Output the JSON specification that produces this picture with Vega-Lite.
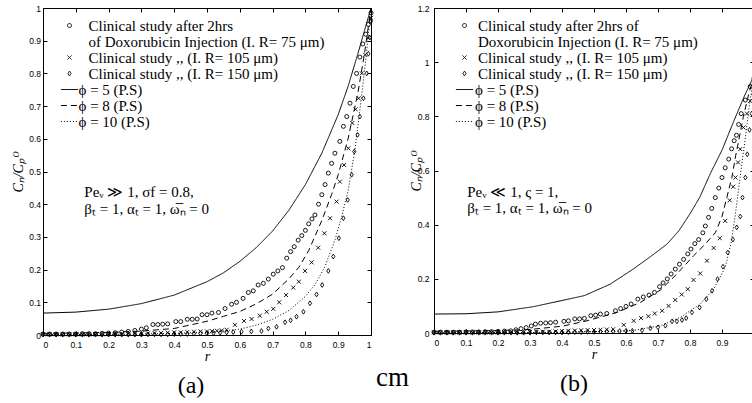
{
  "$schema": "https://vega.github.io/schema/vega-lite/v6.json",
  "padding": {"left": 10, "top": 3, "right": 0, "bottom": 0},
  "background": "white",
  "config": {
    "view": {"stroke": "black", "strokeWidth": 1},
    "style": {"guide-label": {"lineHeight": 16.5}},
    "axis": {"grid": false, "domainColor": "black", "domainWidth": 1, "tickColor": "black", "tickSize": -4, "tickWidth": 1, "labelColor": "black", "labelFont": "Liberation Sans", "labelFontSize": 8.5, "titleFont": "Liberation Serif", "titleFontStyle": "italic", "titleFontWeight": "normal", "titleFontSize": 14, "titleColor": "black"},
    "legend": {"labelFont": "Liberation Serif", "labelFontSize": 15, "labelColor": "black", "labelLimit": 400, "rowPadding": -0.5, "symbolSize": 16, "padding": 0, "symbolStrokeColor": "black", "symbolStrokeWidth": 1, "symbolFillColor": "transparent"}
  },
  "title": {"text": "cm", "orient": "bottom", "anchor": "middle", "font": "Liberation Serif", "fontSize": 27, "fontWeight": "normal", "color": "black", "offset": -34, "dx": 8},
  "datasets": {
    "aL": [
      {"s":"p5","r":0,"v":0.067},{"s":"p5","r":0.1,"v":0.07},{"s":"p5","r":0.2,"v":0.079},{"s":"p5","r":0.3,"v":0.096},{"s":"p5","r":0.4,"v":0.122},{"s":"p5","r":0.5,"v":0.163},{"s":"p5","r":0.55,"v":0.19},{"s":"p5","r":0.6,"v":0.225},{"s":"p5","r":0.65,"v":0.267},{"s":"p5","r":0.7,"v":0.318},{"s":"p5","r":0.75,"v":0.382},{"s":"p5","r":0.8,"v":0.46},{"s":"p5","r":0.85,"v":0.556},{"s":"p5","r":0.9,"v":0.674},{"s":"p5","r":0.93,"v":0.76},{"s":"p5","r":0.96,"v":0.86},{"s":"p5","r":0.98,"v":0.93},{"s":"p5","r":1,"v":1},
      {"s":"p8","r":0,"v":0.005},{"s":"p8","r":0.1,"v":0.006},{"s":"p8","r":0.2,"v":0.008},{"s":"p8","r":0.3,"v":0.012},{"s":"p8","r":0.4,"v":0.02},{"s":"p8","r":0.46,"v":0.033},{"s":"p8","r":0.5,"v":0.042},{"s":"p8","r":0.55,"v":0.057},{"s":"p8","r":0.6,"v":0.072},{"s":"p8","r":0.65,"v":0.095},{"s":"p8","r":0.7,"v":0.125},{"s":"p8","r":0.75,"v":0.172},{"s":"p8","r":0.78,"v":0.207},{"s":"p8","r":0.81,"v":0.258},{"s":"p8","r":0.85,"v":0.35},{"s":"p8","r":0.88,"v":0.43},{"s":"p8","r":0.9,"v":0.49},{"s":"p8","r":0.93,"v":0.6},{"s":"p8","r":0.96,"v":0.74},{"s":"p8","r":0.98,"v":0.86},{"s":"p8","r":1,"v":1},
      {"s":"p10","r":0,"v":0.001},{"s":"p10","r":0.2,"v":0.002},{"s":"p10","r":0.3,"v":0.003},{"s":"p10","r":0.4,"v":0.005},{"s":"p10","r":0.5,"v":0.009},{"s":"p10","r":0.55,"v":0.012},{"s":"p10","r":0.6,"v":0.018},{"s":"p10","r":0.65,"v":0.03},{"s":"p10","r":0.7,"v":0.048},{"s":"p10","r":0.75,"v":0.075},{"s":"p10","r":0.8,"v":0.118},{"s":"p10","r":0.83,"v":0.155},{"s":"p10","r":0.86,"v":0.21},{"s":"p10","r":0.89,"v":0.29},{"s":"p10","r":0.91,"v":0.36},{"s":"p10","r":0.93,"v":0.44},{"s":"p10","r":0.95,"v":0.56},{"s":"p10","r":0.97,"v":0.72},{"s":"p10","r":0.985,"v":0.85},{"s":"p10","r":1,"v":1}
    ],
    "aP": [
      {"s":"c75","r":0,"v":0.003},{"s":"c75","r":0.02,"v":0.003},{"s":"c75","r":0.04,"v":0.003},{"s":"c75","r":0.06,"v":0.003},{"s":"c75","r":0.08,"v":0.003},{"s":"c75","r":0.1,"v":0.003},{"s":"c75","r":0.12,"v":0.004},{"s":"c75","r":0.14,"v":0.004},{"s":"c75","r":0.16,"v":0.004},{"s":"c75","r":0.18,"v":0.005},{"s":"c75","r":0.2,"v":0.006},{"s":"c75","r":0.22,"v":0.007},{"s":"c75","r":0.24,"v":0.009},{"s":"c75","r":0.26,"v":0.011},{"s":"c75","r":0.28,"v":0.014},{"s":"c75","r":0.3,"v":0.018},
      {"s":"c75","r":0.315,"v":0.022},{"s":"c75","r":0.335,"v":0.032},{"s":"c75","r":0.35,"v":0.032},{"s":"c75","r":0.365,"v":0.033},{"s":"c75","r":0.38,"v":0.034},{"s":"c75","r":0.405,"v":0.041},{"s":"c75","r":0.42,"v":0.041},{"s":"c75","r":0.44,"v":0.048},{"s":"c75","r":0.455,"v":0.048},{"s":"c75","r":0.47,"v":0.049},{"s":"c75","r":0.485,"v":0.062},{"s":"c75","r":0.5,"v":0.062},{"s":"c75","r":0.515,"v":0.067},{"s":"c75","r":0.535,"v":0.069},{"s":"c75","r":0.555,"v":0.081},{"s":"c75","r":0.575,"v":0.094},{"s":"c75","r":0.59,"v":0.1},{"s":"c75","r":0.61,"v":0.112},{"s":"c75","r":0.626,"v":0.13},{"s":"c75","r":0.641,"v":0.135},{"s":"c75","r":0.656,"v":0.153},{"s":"c75","r":0.672,"v":0.158},{"s":"c75","r":0.687,"v":0.171},{"s":"c75","r":0.702,"v":0.186},{"s":"c75","r":0.716,"v":0.196},{"s":"c75","r":0.73,"v":0.206},{"s":"c75","r":0.743,"v":0.235},{"s":"c75","r":0.755,"v":0.255},{"s":"c75","r":0.766,"v":0.27},{"s":"c75","r":0.778,"v":0.29},{"s":"c75","r":0.789,"v":0.304},{"s":"c75","r":0.8,"v":0.32},{"s":"c75","r":0.81,"v":0.34},{"s":"c75","r":0.82,"v":0.355},{"s":"c75","r":0.829,"v":0.367},{"s":"c75","r":0.84,"v":0.4},{"s":"c75","r":0.85,"v":0.429},{"s":"c75","r":0.86,"v":0.46},{"s":"c75","r":0.87,"v":0.495},{"s":"c75","r":0.88,"v":0.525},{"s":"c75","r":0.89,"v":0.556},{"s":"c75","r":0.905,"v":0.592},{"s":"c75","r":0.916,"v":0.638},{"s":"c75","r":0.926,"v":0.668},{"s":"c75","r":0.936,"v":0.709},{"s":"c75","r":0.946,"v":0.76},{"s":"c75","r":0.956,"v":0.8},{"s":"c75","r":0.966,"v":0.85},{"s":"c75","r":0.975,"v":0.89},{"s":"c75","r":0.984,"v":0.92},{"s":"c75","r":0.992,"v":0.95},{"s":"c75","r":1,"v":0.985},
      {"s":"c105","r":0,"v":0.002},{"s":"c105","r":0.02,"v":0.002},{"s":"c105","r":0.04,"v":0.002},{"s":"c105","r":0.06,"v":0.002},{"s":"c105","r":0.08,"v":0.002},{"s":"c105","r":0.1,"v":0.002},{"s":"c105","r":0.12,"v":0.002},{"s":"c105","r":0.14,"v":0.002},{"s":"c105","r":0.16,"v":0.002},{"s":"c105","r":0.18,"v":0.002},{"s":"c105","r":0.2,"v":0.003},{"s":"c105","r":0.22,"v":0.003},{"s":"c105","r":0.24,"v":0.003},{"s":"c105","r":0.26,"v":0.004},{"s":"c105","r":0.28,"v":0.004},{"s":"c105","r":0.3,"v":0.005},{"s":"c105","r":0.32,"v":0.005},{"s":"c105","r":0.34,"v":0.006},{"s":"c105","r":0.36,"v":0.006},{"s":"c105","r":0.38,"v":0.007},{"s":"c105","r":0.4,"v":0.008},{"s":"c105","r":0.42,"v":0.008},{"s":"c105","r":0.44,"v":0.009},{"s":"c105","r":0.46,"v":0.01},
      {"s":"c105","r":0.48,"v":0.011},{"s":"c105","r":0.5,"v":0.011},{"s":"c105","r":0.515,"v":0.012},{"s":"c105","r":0.53,"v":0.013},{"s":"c105","r":0.545,"v":0.014},{"s":"c105","r":0.56,"v":0.016},{"s":"c105","r":0.585,"v":0.031},{"s":"c105","r":0.613,"v":0.043},{"s":"c105","r":0.636,"v":0.049},{"s":"c105","r":0.661,"v":0.059},{"s":"c105","r":0.682,"v":0.071},{"s":"c105","r":0.702,"v":0.08},{"s":"c105","r":0.72,"v":0.1},{"s":"c105","r":0.741,"v":0.122},{"s":"c105","r":0.763,"v":0.145},{"s":"c105","r":0.78,"v":0.163},{"s":"c105","r":0.799,"v":0.196},{"s":"c105","r":0.819,"v":0.222},{"s":"c105","r":0.839,"v":0.267},{"s":"c105","r":0.858,"v":0.311},{"s":"c105","r":0.875,"v":0.357},{"s":"c105","r":0.895,"v":0.408},{"s":"c105","r":0.905,"v":0.469},{"s":"c105","r":0.918,"v":0.52},{"s":"c105","r":0.931,"v":0.571},{"s":"c105","r":0.943,"v":0.648},{"s":"c105","r":0.953,"v":0.69},{"s":"c105","r":0.962,"v":0.724},{"s":"c105","r":0.972,"v":0.8},{"s":"c105","r":0.982,"v":0.857},{"s":"c105","r":0.992,"v":0.908},{"s":"c105","r":1,"v":0.97},
      {"s":"c150","r":0,"v":0.001},{"s":"c150","r":0.02,"v":0.001},{"s":"c150","r":0.04,"v":0.001},{"s":"c150","r":0.06,"v":0.001},{"s":"c150","r":0.08,"v":0.001},{"s":"c150","r":0.1,"v":0.001},{"s":"c150","r":0.12,"v":0.001},{"s":"c150","r":0.14,"v":0.001},{"s":"c150","r":0.16,"v":0.001},{"s":"c150","r":0.18,"v":0.001},{"s":"c150","r":0.2,"v":0.001},{"s":"c150","r":0.22,"v":0.001},{"s":"c150","r":0.24,"v":0.001},{"s":"c150","r":0.26,"v":0.001},{"s":"c150","r":0.28,"v":0.001},{"s":"c150","r":0.3,"v":0.001},{"s":"c150","r":0.32,"v":0.002},{"s":"c150","r":0.34,"v":0.002},{"s":"c150","r":0.36,"v":0.002},{"s":"c150","r":0.38,"v":0.002},{"s":"c150","r":0.4,"v":0.003},{"s":"c150","r":0.42,"v":0.003},{"s":"c150","r":0.44,"v":0.003},{"s":"c150","r":0.46,"v":0.004},{"s":"c150","r":0.48,"v":0.005},{"s":"c150","r":0.5,"v":0.005},{"s":"c150","r":0.52,"v":0.006},{"s":"c150","r":0.54,"v":0.007},{"s":"c150","r":0.56,"v":0.008},{"s":"c150","r":0.58,"v":0.009},
      {"s":"c150","r":0.605,"v":0.01},{"s":"c150","r":0.635,"v":0.011},{"s":"c150","r":0.666,"v":0.012},{"s":"c150","r":0.687,"v":0.02},{"s":"c150","r":0.712,"v":0.025},{"s":"c150","r":0.738,"v":0.039},{"s":"c150","r":0.755,"v":0.045},{"s":"c150","r":0.773,"v":0.056},{"s":"c150","r":0.794,"v":0.071},{"s":"c150","r":0.814,"v":0.097},{"s":"c150","r":0.834,"v":0.124},{"s":"c150","r":0.851,"v":0.153},{"s":"c150","r":0.87,"v":0.196},{"s":"c150","r":0.885,"v":0.24},{"s":"c150","r":0.902,"v":0.296},{"s":"c150","r":0.916,"v":0.357},{"s":"c150","r":0.929,"v":0.413},{"s":"c150","r":0.941,"v":0.49},{"s":"c150","r":0.949,"v":0.561},{"s":"c150","r":0.959,"v":0.612},{"s":"c150","r":0.966,"v":0.668},{"s":"c150","r":0.977,"v":0.724},{"s":"c150","r":0.987,"v":0.8},{"s":"c150","r":0.992,"v":0.86},{"s":"c150","r":0.996,"v":0.91},{"s":"c150","r":1,"v":0.96}
    ],
    "bL": [
      {"s":"p5","r":0,"v":0.07},{"s":"p5","r":0.1,"v":0.071},{"s":"p5","r":0.2,"v":0.078},{"s":"p5","r":0.31,"v":0.097},{"s":"p5","r":0.4,"v":0.12},{"s":"p5","r":0.47,"v":0.138},{"s":"p5","r":0.55,"v":0.18},{"s":"p5","r":0.62,"v":0.234},{"s":"p5","r":0.68,"v":0.285},{"s":"p5","r":0.728,"v":0.328},{"s":"p5","r":0.765,"v":0.377},{"s":"p5","r":0.8,"v":0.44},{"s":"p5","r":0.83,"v":0.5},{"s":"p5","r":0.864,"v":0.59},{"s":"p5","r":0.9,"v":0.675},{"s":"p5","r":0.936,"v":0.78},{"s":"p5","r":0.97,"v":0.875},{"s":"p5","r":1,"v":0.95},
      {"s":"p8","r":0,"v":0.006},{"s":"p8","r":0.2,"v":0.009},{"s":"p8","r":0.3,"v":0.013},{"s":"p8","r":0.4,"v":0.025},{"s":"p8","r":0.478,"v":0.045},{"s":"p8","r":0.572,"v":0.076},{"s":"p8","r":0.645,"v":0.113},{"s":"p8","r":0.708,"v":0.159},{"s":"p8","r":0.759,"v":0.218},{"s":"p8","r":0.811,"v":0.285},{"s":"p8","r":0.845,"v":0.325},{"s":"p8","r":0.879,"v":0.37},{"s":"p8","r":0.9,"v":0.43},{"s":"p8","r":0.915,"v":0.5},{"s":"p8","r":0.931,"v":0.575},{"s":"p8","r":0.942,"v":0.65},{"s":"p8","r":0.957,"v":0.74},{"s":"p8","r":0.967,"v":0.8},{"s":"p8","r":0.983,"v":0.88},{"s":"p8","r":1,"v":0.95},
      {"s":"p10","r":0,"v":0.001},{"s":"p10","r":0.3,"v":0.002},{"s":"p10","r":0.4,"v":0.003},{"s":"p10","r":0.5,"v":0.005},{"s":"p10","r":0.58,"v":0.007},{"s":"p10","r":0.624,"v":0.01},{"s":"p10","r":0.708,"v":0.027},{"s":"p10","r":0.77,"v":0.058},{"s":"p10","r":0.832,"v":0.107},{"s":"p10","r":0.874,"v":0.162},{"s":"p10","r":0.91,"v":0.242},{"s":"p10","r":0.928,"v":0.33},{"s":"p10","r":0.942,"v":0.44},{"s":"p10","r":0.957,"v":0.58},{"s":"p10","r":0.973,"v":0.72},{"s":"p10","r":0.986,"v":0.845},{"s":"p10","r":1,"v":0.95}
    ],
    "bP": [
      {"s":"c75","r":0,"v":0.003},{"s":"c75","r":0.02,"v":0.003},{"s":"c75","r":0.04,"v":0.003},{"s":"c75","r":0.06,"v":0.003},{"s":"c75","r":0.08,"v":0.003},{"s":"c75","r":0.1,"v":0.004},{"s":"c75","r":0.12,"v":0.004},{"s":"c75","r":0.14,"v":0.004},{"s":"c75","r":0.16,"v":0.005},{"s":"c75","r":0.18,"v":0.005},{"s":"c75","r":0.2,"v":0.006},{"s":"c75","r":0.22,"v":0.007},{"s":"c75","r":0.24,"v":0.008},
      {"s":"c75","r":0.256,"v":0.012},{"s":"c75","r":0.272,"v":0.016},{"s":"c75","r":0.288,"v":0.02},{"s":"c75","r":0.304,"v":0.026},{"s":"c75","r":0.317,"v":0.033},{"s":"c75","r":0.333,"v":0.036},{"s":"c75","r":0.349,"v":0.037},{"s":"c75","r":0.364,"v":0.038},{"s":"c75","r":0.38,"v":0.04},{"s":"c75","r":0.406,"v":0.043},{"s":"c75","r":0.42,"v":0.045},{"s":"c75","r":0.44,"v":0.052},{"s":"c75","r":0.455,"v":0.052},{"s":"c75","r":0.47,"v":0.054},{"s":"c75","r":0.49,"v":0.064},{"s":"c75","r":0.505,"v":0.066},{"s":"c75","r":0.52,"v":0.07},{"s":"c75","r":0.54,"v":0.072},{"s":"c75","r":0.567,"v":0.082},{"s":"c75","r":0.583,"v":0.09},{"s":"c75","r":0.6,"v":0.098},{"s":"c75","r":0.616,"v":0.107},{"s":"c75","r":0.637,"v":0.125},{"s":"c75","r":0.654,"v":0.133},{"s":"c75","r":0.672,"v":0.14},{"s":"c75","r":0.689,"v":0.15},{"s":"c75","r":0.705,"v":0.171},{"s":"c75","r":0.716,"v":0.185},{"s":"c75","r":0.729,"v":0.2},{"s":"c75","r":0.741,"v":0.218},{"s":"c75","r":0.754,"v":0.236},{"s":"c75","r":0.767,"v":0.254},{"s":"c75","r":0.78,"v":0.272},{"s":"c75","r":0.793,"v":0.292},{"s":"c75","r":0.803,"v":0.31},{"s":"c75","r":0.815,"v":0.33},{"s":"c75","r":0.827,"v":0.345},{"s":"c75","r":0.84,"v":0.37},{"s":"c75","r":0.848,"v":0.395},{"s":"c75","r":0.858,"v":0.427},{"s":"c75","r":0.868,"v":0.46},{"s":"c75","r":0.879,"v":0.5},{"s":"c75","r":0.89,"v":0.535},{"s":"c75","r":0.9,"v":0.574},{"s":"c75","r":0.91,"v":0.61},{"s":"c75","r":0.921,"v":0.642},{"s":"c75","r":0.93,"v":0.68},{"s":"c75","r":0.938,"v":0.71},{"s":"c75","r":0.945,"v":0.73},{"s":"c75","r":0.952,"v":0.77},{"s":"c75","r":0.96,"v":0.81},{"s":"c75","r":0.973,"v":0.86},{"s":"c75","r":0.988,"v":0.91},{"s":"c75","r":1,"v":0.94},
      {"s":"c105","r":0,"v":0.002},{"s":"c105","r":0.02,"v":0.002},{"s":"c105","r":0.04,"v":0.002},{"s":"c105","r":0.06,"v":0.002},{"s":"c105","r":0.08,"v":0.002},{"s":"c105","r":0.1,"v":0.002},{"s":"c105","r":0.12,"v":0.002},{"s":"c105","r":0.14,"v":0.002},{"s":"c105","r":0.16,"v":0.002},{"s":"c105","r":0.18,"v":0.002},{"s":"c105","r":0.2,"v":0.002},{"s":"c105","r":0.22,"v":0.003},{"s":"c105","r":0.24,"v":0.003},{"s":"c105","r":0.26,"v":0.003},{"s":"c105","r":0.28,"v":0.003},{"s":"c105","r":0.3,"v":0.004},{"s":"c105","r":0.32,"v":0.004},{"s":"c105","r":0.34,"v":0.005},{"s":"c105","r":0.36,"v":0.005},{"s":"c105","r":0.38,"v":0.006},{"s":"c105","r":0.4,"v":0.007},{"s":"c105","r":0.42,"v":0.008},{"s":"c105","r":0.44,"v":0.009},
      {"s":"c105","r":0.46,"v":0.01},{"s":"c105","r":0.48,"v":0.011},{"s":"c105","r":0.5,"v":0.011},{"s":"c105","r":0.52,"v":0.012},{"s":"c105","r":0.54,"v":0.013},{"s":"c105","r":0.56,"v":0.014},{"s":"c105","r":0.593,"v":0.03},{"s":"c105","r":0.624,"v":0.045},{"s":"c105","r":0.647,"v":0.055},{"s":"c105","r":0.67,"v":0.062},{"s":"c105","r":0.69,"v":0.072},{"s":"c105","r":0.713,"v":0.082},{"s":"c105","r":0.733,"v":0.1},{"s":"c105","r":0.754,"v":0.122},{"s":"c105","r":0.774,"v":0.142},{"s":"c105","r":0.793,"v":0.162},{"s":"c105","r":0.811,"v":0.196},{"s":"c105","r":0.832,"v":0.22},{"s":"c105","r":0.853,"v":0.267},{"s":"c105","r":0.874,"v":0.314},{"s":"c105","r":0.893,"v":0.35},{"s":"c105","r":0.91,"v":0.414},{"s":"c105","r":0.924,"v":0.49},{"s":"c105","r":0.935,"v":0.54},{"s":"c105","r":0.942,"v":0.574},{"s":"c105","r":0.95,"v":0.63},{"s":"c105","r":0.957,"v":0.679},{"s":"c105","r":0.967,"v":0.759},{"s":"c105","r":0.978,"v":0.81},{"s":"c105","r":0.988,"v":0.857},{"s":"c105","r":1,"v":0.93},
      {"s":"c150","r":0,"v":0.001},{"s":"c150","r":0.02,"v":0.001},{"s":"c150","r":0.04,"v":0.001},{"s":"c150","r":0.06,"v":0.001},{"s":"c150","r":0.08,"v":0.001},{"s":"c150","r":0.1,"v":0.001},{"s":"c150","r":0.12,"v":0.001},{"s":"c150","r":0.14,"v":0.001},{"s":"c150","r":0.16,"v":0.001},{"s":"c150","r":0.18,"v":0.001},{"s":"c150","r":0.2,"v":0.001},{"s":"c150","r":0.22,"v":0.001},{"s":"c150","r":0.24,"v":0.001},{"s":"c150","r":0.26,"v":0.001},{"s":"c150","r":0.28,"v":0.001},{"s":"c150","r":0.3,"v":0.001},{"s":"c150","r":0.32,"v":0.002},{"s":"c150","r":0.34,"v":0.002},{"s":"c150","r":0.36,"v":0.002},{"s":"c150","r":0.38,"v":0.002},{"s":"c150","r":0.4,"v":0.002},{"s":"c150","r":0.42,"v":0.003},{"s":"c150","r":0.44,"v":0.003},{"s":"c150","r":0.46,"v":0.003},{"s":"c150","r":0.48,"v":0.004},{"s":"c150","r":0.5,"v":0.004},{"s":"c150","r":0.52,"v":0.005},{"s":"c150","r":0.54,"v":0.005},{"s":"c150","r":0.56,"v":0.006},{"s":"c150","r":0.58,"v":0.007},{"s":"c150","r":0.6,"v":0.008},{"s":"c150","r":0.62,"v":0.008},
      {"s":"c150","r":0.65,"v":0.01},{"s":"c150","r":0.676,"v":0.018},{"s":"c150","r":0.7,"v":0.021},{"s":"c150","r":0.723,"v":0.027},{"s":"c150","r":0.744,"v":0.043},{"s":"c150","r":0.759,"v":0.043},{"s":"c150","r":0.775,"v":0.048},{"s":"c150","r":0.788,"v":0.055},{"s":"c150","r":0.806,"v":0.076},{"s":"c150","r":0.83,"v":0.094},{"s":"c150","r":0.851,"v":0.125},{"s":"c150","r":0.869,"v":0.156},{"s":"c150","r":0.886,"v":0.199},{"s":"c150","r":0.903,"v":0.245},{"s":"c150","r":0.918,"v":0.297},{"s":"c150","r":0.934,"v":0.345},{"s":"c150","r":0.946,"v":0.39},{"s":"c150","r":0.957,"v":0.43},{"s":"c150","r":0.964,"v":0.5},{"s":"c150","r":0.973,"v":0.574},{"s":"c150","r":0.979,"v":0.66},{"s":"c150","r":0.986,"v":0.75},{"s":"c150","r":0.993,"v":0.81},{"s":"c150","r":0.998,"v":0.88},{"s":"c150","r":1,"v":0.94}
    ]
  },
  "spacing": 32,
  "resolve": {
    "scale": {"x": "independent", "y": "independent", "shape": "independent", "strokeDash": "independent"},
    "axis": {"x": "independent", "y": "independent"},
    "legend": {"shape": "independent", "strokeDash": "independent"}
  },
  "hconcat": [
    {
      "width": 328,
      "height": 327,
      "title": {"text": "(a)", "orient": "bottom", "font": "Liberation Serif", "fontSize": 24, "fontWeight": "normal", "color": "black", "offset": 11, "dx": -16},
      "resolve": {"axis": {"x": "independent", "y": "independent"}},
      "layer": [
        {
          "data": {"name": "aL"},
          "mark": {"type": "line", "color": "black", "strokeWidth": 1},
          "encoding": {
            "x": {"field": "r", "type": "quantitative", "scale": {"domain": [0, 1], "nice": false, "zero": false}, "axis": {"orient": "top", "labels": false, "title": null, "domain": false, "values": [0,0.1,0.2,0.3,0.4,0.5,0.6,0.7,0.8,0.9,1]}},
            "y": {"field": "v", "type": "quantitative", "scale": {"domain": [0, 1], "nice": false}, "axis": {"orient": "right", "labels": false, "title": null, "domain": false, "values": [0,0.1,0.2,0.3,0.4,0.5,0.6,0.7,0.8,0.9,1]}},
            "strokeDash": {"field": "s", "type": "nominal", "scale": {"domain": ["c75","c105","c150","p5","p8","p10"], "range": [[1,0],[1,0],[1,0],[1,0],[6,4],[1,2]]},
              "legend": {"orient": "none", "legendX": 19, "legendY": 10, "title": null, "labelOffset": 1.5, "labelExpr": "datum.value == 'c75' ? ['\u200B\u2002\u2006Clinical study after 2hrs', '\u200B\u2002\u2006of Doxorubicin Injection (I. R= 75 μm)'] : datum.value == 'c105' ? '\u200B\u2002\u2006Clinical study ,, (I. R= 105 μm)' : datum.value == 'c150' ? '\u200B\u2002\u2006Clinical study ,, (I. R= 150 μm)' : datum.value == 'p5' ? 'ϕ = 5 (P.S)' : datum.value == 'p8' ? 'ϕ = 8 (P.S)' : 'ϕ = 10 (P.S)'"}}
          }
        },
        {
          "data": {"name": "aP"},
          "mark": {"type": "point", "filled": false, "color": "black", "size": 16, "strokeWidth": 0.9, "opacity": 1},
          "encoding": {
            "x": {"field": "r", "type": "quantitative", "scale": {"domain": [0, 1], "nice": false, "zero": false}, "axis": {"values": [0,0.1,0.2,0.3,0.4,0.5,0.6,0.7,0.8,0.9,1], "format": "~g", "title": "r", "labelPadding": 9, "minExtent": 14, "maxExtent": 14, "titlePadding": 0}},
            "y": {"field": "v", "type": "quantitative", "scale": {"domain": [0, 1], "nice": false}, "axis": {"values": [0,0.1,0.2,0.3,0.4,0.5,0.6,0.7,0.8,0.9,1], "format": "~g", "title": "Cₙ/Cₚᴼ", "labelPadding": 6.4, "minExtent": 17.7, "maxExtent": 17.7, "titlePadding": 0}},
            "shape": {"field": "s", "type": "nominal", "scale": {"domain": ["c75","c105","c150","p5","p8","p10"], "range": ["circle", "M-1,-1L1,1M1,-1L-1,1", "M0,-1.2L0.8,0L0,1.2L-0.8,0Z", "M-4.3,0L4.3,0", "M-4.3,0L4.3,0", "M-4.3,0L4.3,0"]},
              "legend": {"orient": "none", "legendX": 19, "legendY": 10, "title": null, "labelOffset": 1.5, "labelExpr": "datum.value == 'c75' ? ['\u200B\u2002\u2006Clinical study after 2hrs', '\u200B\u2002\u2006of Doxorubicin Injection (I. R= 75 μm)'] : datum.value == 'c105' ? '\u200B\u2002\u2006Clinical study ,, (I. R= 105 μm)' : datum.value == 'c150' ? '\u200B\u2002\u2006Clinical study ,, (I. R= 150 μm)' : datum.value == 'p5' ? 'ϕ = 5 (P.S)' : datum.value == 'p8' ? 'ϕ = 8 (P.S)' : 'ϕ = 10 (P.S)'"}}
          }
        },
        {
          "data": {"values": [{}]},
          "mark": {"type": "text", "text": ["Peᵥ ≫ 1, σf = 0.8,", "βₜ = 1, αₜ = 1, ω̅ₙ = 0"], "font": "Liberation Serif", "fontSize": 15, "align": "left", "baseline": "middle", "lineHeight": 16.5, "color": "black"},
          "encoding": {
            "x": {"datum": 0.126, "type": "quantitative", "axis": null},
            "y": {"datum": 0.436, "type": "quantitative", "axis": null}
          }
        }
      ]
    },
    {
      "width": 320,
      "height": 325,
      "title": {"text": "(b)", "orient": "bottom", "font": "Liberation Serif", "fontSize": 24, "fontWeight": "normal", "color": "black", "offset": 11, "dx": -20},
      "resolve": {"axis": {"x": "independent", "y": "independent"}},
      "layer": [
        {
          "data": {"name": "bL"},
          "mark": {"type": "line", "color": "black", "strokeWidth": 1},
          "encoding": {
            "x": {"field": "r", "type": "quantitative", "scale": {"domain": [0, 1], "nice": false, "zero": false}, "axis": {"orient": "top", "labels": false, "title": null, "domain": false, "values": [0,0.1,0.2,0.3,0.4,0.5,0.6,0.7,0.8,0.9]}},
            "y": {"field": "v", "type": "quantitative", "scale": {"domain": [0, 1.2], "nice": false}, "axis": {"orient": "right", "labels": false, "title": null, "domain": false, "values": [0,0.2,0.4,0.6,0.8,1,1.2]}},
            "strokeDash": {"field": "s", "type": "nominal", "scale": {"domain": ["c75","c105","c150","p5","p8","p10"], "range": [[1,0],[1,0],[1,0],[1,0],[6,4],[1,2]]},
              "legend": {"orient": "none", "legendX": 23, "legendY": 10, "title": null, "labelOffset": 3, "labelExpr": "datum.value == 'c75' ? ['\u200B\u2009Clinical study after 2hrs of', '\u200B\u2009Doxorubicin Injection (I. R= 75 μm)'] : datum.value == 'c105' ? '\u200B\u2009Clinical study ,, (I. R= 105 μm)' : datum.value == 'c150' ? '\u200B\u2009Clinical study ,, (I. R= 150 μm)' : datum.value == 'p5' ? 'ϕ = 5 (P.S)' : datum.value == 'p8' ? 'ϕ = 8 (P.S)' : 'ϕ = 10 (P.S)'"}}
          }
        },
        {
          "data": {"name": "bP"},
          "mark": {"type": "point", "filled": false, "color": "black", "size": 16, "strokeWidth": 0.9, "opacity": 1},
          "encoding": {
            "x": {"field": "r", "type": "quantitative", "scale": {"domain": [0, 1], "nice": false, "zero": false}, "axis": {"values": [0,0.1,0.2,0.3,0.4,0.5,0.6,0.7,0.8,0.9], "format": "~g", "title": "r", "labelPadding": 9, "minExtent": 14, "maxExtent": 14, "titlePadding": 0}},
            "y": {"field": "v", "type": "quantitative", "scale": {"domain": [0, 1.2], "nice": false}, "axis": {"values": [0,0.2,0.4,0.6,0.8,1,1.2], "format": "~g", "title": "Cₙ/Cₚᴼ", "labelPadding": 9, "minExtent": 10.6, "maxExtent": 10.6, "titlePadding": 0}},
            "shape": {"field": "s", "type": "nominal", "scale": {"domain": ["c75","c105","c150","p5","p8","p10"], "range": ["circle", "M-1,-1L1,1M1,-1L-1,1", "M0,-1.2L0.8,0L0,1.2L-0.8,0Z", "M-4.3,0L4.3,0", "M-4.3,0L4.3,0", "M-4.3,0L4.3,0"]},
              "legend": {"orient": "none", "legendX": 23, "legendY": 10, "title": null, "labelOffset": 3, "labelExpr": "datum.value == 'c75' ? ['\u200B\u2009Clinical study after 2hrs of', '\u200B\u2009Doxorubicin Injection (I. R= 75 μm)'] : datum.value == 'c105' ? '\u200B\u2009Clinical study ,, (I. R= 105 μm)' : datum.value == 'c150' ? '\u200B\u2009Clinical study ,, (I. R= 150 μm)' : datum.value == 'p5' ? 'ϕ = 5 (P.S)' : datum.value == 'p8' ? 'ϕ = 8 (P.S)' : 'ϕ = 10 (P.S)'"}}
          }
        },
        {
          "data": {"values": [{}]},
          "mark": {"type": "text", "text": ["Peᵥ ≪ 1, ς = 1,", "βₜ = 1, αₜ = 1, ω̅ₙ = 0"], "font": "Liberation Serif", "fontSize": 15, "align": "left", "baseline": "middle", "lineHeight": 16.5, "color": "black"},
          "encoding": {
            "x": {"datum": 0.104, "type": "quantitative", "axis": null},
            "y": {"datum": 0.522, "type": "quantitative", "axis": null}
          }
        }
      ]
    }
  ]
}
